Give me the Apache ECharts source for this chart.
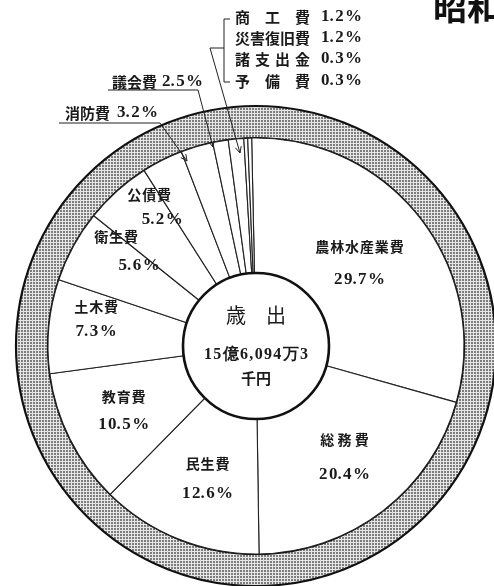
<!DOCTYPE html>
<html>
<head>
<meta charset="utf-8">
<script src="https://cdn.jsdelivr.net/npm/echarts@6/dist/echarts.min.js"></script>
<style>
html,body{margin:0;padding:0;background:#fff;}
#c{width:494px;height:586px;}
</style>
</head>
<body>
<div id="c"></div>
<script>
// ---- data ----
const categories = ['農林水産業費','総務費','民生費','教育費','土木費','衛生費','公債費','消防費','議会費','商工費','災害復旧費','諸支出金','予備費'];
const shares = [29.7, 20.4, 12.6, 10.5, 7.3, 5.6, 5.2, 3.2, 2.5, 1.2, 1.2, 0.3, 0.3];
const totalTitle = '歳　出';
const totalAmount = '15億6,094万3';
const totalUnit = '千円';
const pageTitle = '昭和';

// ---- layout / style (not data) ----
const CX = 256, CY = 346;
const inlineCount = 7;
const labelOffsets = [[-10,5],[1,-3],[5,-1],[-4,0],[-17,-13],[-14,-26],[-11,-32]];
const labelLineHeights = [33,35,30,28,25,28,24];
const valueShift = [0,0,0,0,0,46,26];
const spacedNames = {'総務費':'総 務 費'};
const HS = '\u200A';

function spacedNum(v, sep) {
  const s = v.toFixed(1) + '%';
  let out = '';
  for (let i = 0; i < s.length; i++) {
    out += s[i];
    if (i < s.length - 1 && s[i + 1] !== '.') out += sep;
  }
  return out;
}
function spacedName(n) {
  if (spacedNames[n]) return spacedNames[n];
  return n.split('').join(HS);
}

const pc = document.createElement('canvas');
pc.width = 3; pc.height = 3;
const g = pc.getContext('2d');
g.fillStyle = '#e6e6e6'; g.fillRect(0,0,3,3);
g.fillStyle = '#7d7d7d'; g.fillRect(0,0,2,2);

const nameFont = '"Noto Sans CJK JP", "Noto Sans", sans-serif';
const numFont = '"Liberation Serif", "DejaVu Serif", serif';

const pieData = categories.map((n, i) => {
  const item = { name: n, value: shares[i] };
  if (i < inlineCount) {
    item.label = {
      show: true,
      position: 'inside',
      offset: labelOffsets[i],
      formatter: () => '{n|' + spacedName(n) + '}\n{v|' + spacedNum(shares[i], HS) + '}',
      rich: {
        n: { fontFamily: nameFont, fontSize: 14, fontWeight: 'bold', color: '#1a1a1a', lineHeight: labelLineHeights[i] },
        v: { fontFamily: numFont, fontSize: 17, fontWeight: 'bold', color: '#1a1a1a', lineHeight: labelLineHeights[i], padding: [0,0,0,valueShift[i]] }
      }
    };
  } else {
    item.label = { show: false };
  }
  return item;
});

// ---- annotation helpers ----
const graphics = [];
function line(points, w) {
  graphics.push({ type: 'polyline', shape: { points: points }, style: { stroke: '#222', lineWidth: w || 1, fill: null }, z: 100 });
}
function arrow(p0, p1) {
  line([p0, p1], 1);
  const ang = Math.atan2(p1[1]-p0[1], p1[0]-p0[0]);
  const L = 7, a = 0.45;
  line([[p1[0]-L*Math.cos(ang-a), p1[1]-L*Math.sin(ang-a)], p1, [p1[0]-L*Math.cos(ang+a), p1[1]-L*Math.sin(ang+a)]], 1);
}
function text(str, x, y, font, size, align) {
  graphics.push({ type: 'text', x: x, y: y, z: 100,
    style: { text: str, fontFamily: font, fontSize: size, fontWeight: 'bold', fill: '#1a1a1a', textAlign: align || 'left', textVerticalAlign: 'middle' } });
}

// 消防費 / 議会費 callouts
const iFire = categories.indexOf('消防費'), iAssembly = categories.indexOf('議会費');
text(categories[iFire], 65, 113, nameFont, 15);
text(spacedNum(shares[iFire], HS), 117, 113, numFont, 17);
line([[59,123],[160,123]], 1);
arrow([160,123],[187,161]);
text(categories[iAssembly], 112, 82, nameFont, 15);
text(spacedNum(shares[iAssembly], HS), 162, 82, numFont, 17);
line([[108,90],[198,90]], 1);
arrow([198,90],[213,147]);

// bracket group
const groupNames = ['商　工　費','災害復旧費','諸\u2004支\u2004出\u2004金','予　備　費'];
const groupIdx = [9,10,11,12];
const groupY = [17, 38, 59, 81];
groupIdx.forEach((ci, k) => {
  text(groupNames[k], 235, groupY[k], nameFont, 15);
  text(spacedNum(shares[ci], HS), 321, groupY[k], numFont, 17);
});
line([[230,19],[224,19],[224,82],[230,82]], 1);
line([[224,48],[210,48]], 1);
arrow([210,48],[240,153]);

// title (cut off at right edge)
graphics.push({ type: 'text', x: 433, y: 7, z: 100,
  style: { text: pageTitle, fontFamily: nameFont, fontSize: 34, fontWeight: 'bold', fill: '#111', textAlign: 'left', textVerticalAlign: 'middle' } });

const chart = echarts.init(document.getElementById('c'), null, { renderer: 'canvas' });
chart.setOption({
  animation: false,
  backgroundColor: '#ffffff',
  series: [
    {
      type: 'pie', center: [CX, CY], radius: [208, 240], silent: true,
      label: { show: false }, labelLine: { show: false },
      itemStyle: { color: { image: pc, repeat: 'repeat' }, borderColor: '#111', borderWidth: 2.2 },
      emphasis: { disabled: true },
      data: [{ value: 1, name: 'ring' }]
    },
    {
      type: 'pie', center: [CX, CY], radius: [73, 208], startAngle: 91.2, clockwise: true,
      silent: true, avoidLabelOverlap: false,
      itemStyle: { color: '#ffffff', borderColor: '#222', borderWidth: 1.1 },
      labelLine: { show: false },
      emphasis: { disabled: true },
      data: pieData
    },
    {
      type: 'pie', center: [CX, CY], radius: [0, 73], silent: true,
      itemStyle: { color: '#ffffff', borderColor: '#111', borderWidth: 2.6 },
      emphasis: { disabled: true },
      labelLine: { show: false },
      label: {
        show: true, position: 'center', offset: [0, -8],
        formatter: '{a|' + totalTitle + '}\n{b|' + totalAmount.split('').join(HS) + '}\n{c|' + totalUnit + '}',
        rich: {
          a: { fontFamily: nameFont, fontSize: 20, color: '#1a1a1a', lineHeight: 57 },
          b: { fontFamily: numFont, fontSize: 16, fontWeight: 'bold', color: '#1a1a1a', lineHeight: 23 },
          c: { fontFamily: nameFont, fontSize: 15, fontWeight: 'bold', color: '#1a1a1a', lineHeight: 23 }
        }
      },
      data: [{ value: 1, name: 'total' }]
    }
  ],
  graphic: graphics
});
</script>
</body>
</html>
